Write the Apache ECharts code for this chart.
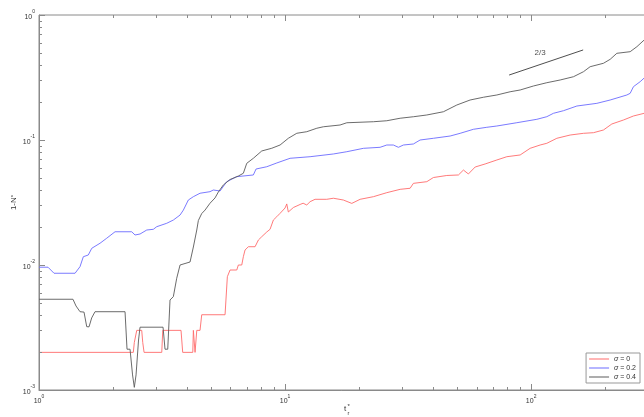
<!DOCTYPE html>
<html>
<head>
<meta charset="utf-8">
<script src="https://cdn.jsdelivr.net/npm/echarts@6/dist/echarts.min.js"></script>
<style>
  html, body { margin: 0; padding: 0; background: #fff; }
  #chart { width: 644px; height: 417px; }
</style>
</head>
<body>
<div id="chart"></div>
<script>
// Axis ranges and tick values
const X_MIN = 1, X_MAX = 307;
const Y_MIN = 0.001, Y_MAX = 1;
const xTickValues = [1, 2, 3, 4, 5, 6, 7, 8, 9, 10, 20, 30, 40, 50, 60, 70, 80, 90, 100, 200, 300];
const yTickValues = [0.001, 0.002, 0.003, 0.004, 0.005, 0.006, 0.007, 0.008, 0.009,
                     0.01, 0.02, 0.03, 0.04, 0.05, 0.06, 0.07, 0.08, 0.09,
                     0.1, 0.2, 0.3, 0.4, 0.5, 0.6, 0.7, 0.8, 0.9, 1];

// sigma = 0
const tS0 = [1, 2.417, 2.44, 2.496, 2.615, 2.64, 2.673, 3.154, 3.184, 3.777, 3.837, 4.217, 4.24, 4.307, 4.377,
  4.512, 4.585, 5.703, 5.827, 5.976, 6.364, 6.459, 6.668, 6.768, 6.876, 7.093, 7.551, 7.791, 8.039, 8.425,
  8.69, 8.963, 9.254, 9.543, 10, 10.16, 10.31, 10.81, 11.51, 11.84, 12.25, 12.64, 13.24, 14.77, 15.72,
  17.26, 18.67, 20.18, 22.86, 25.91, 29.35, 32.22, 33.23, 37.67, 40.07, 45.42, 50.65, 53.07, 55.6, 59.22,
  65.01, 72.55, 79.65, 90.23, 99.06, 108.8, 115.8, 127.2, 144.1, 163.2, 179.2, 196.7, 212.8, 237.2, 260.5, 288];
const nS0 = [0.002, 0.002, 0.0024, 0.003, 0.003, 0.0024, 0.002, 0.002, 0.003, 0.003, 0.002, 0.002, 0.003, 0.002, 0.003,
  0.003, 0.004, 0.004, 0.00806, 0.00912, 0.00912, 0.01, 0.01, 0.01165, 0.01318, 0.014, 0.014, 0.01585, 0.01684, 0.01837,
  0.0193, 0.0229, 0.02434, 0.0259, 0.02858, 0.0308, 0.02655, 0.02884, 0.0305, 0.0312, 0.0302, 0.0321, 0.03354, 0.03354, 0.0342,
  0.0331, 0.0311, 0.03354, 0.0352, 0.0379, 0.0403, 0.0411, 0.045, 0.0464, 0.0501, 0.052, 0.0525, 0.0575, 0.0535, 0.0608,
  0.0643, 0.0692, 0.0735, 0.0759, 0.0858, 0.0912, 0.0941, 0.1032, 0.1096, 0.1131, 0.1144, 0.1202, 0.1343, 0.1445, 0.1556, 0.1635];

// sigma = 0.2
const tS02 = [1, 1.088, 1.151, 1.401, 1.468, 1.514, 1.586, 1.638, 1.77, 1.884, 2.037, 2.381, 2.456, 2.574, 2.741,
  2.915, 3.009, 3.305, 3.516, 3.743, 3.861, 4.045, 4.24, 4.512, 4.955, 5.11, 5.443, 5.794, 6.364, 7.431,
  7.622, 8.425, 9.254, 10.48, 12.64, 15.72, 17.82, 20.82, 24.33, 25.91, 27.55, 28.88, 30.27, 33.23, 35.38,
  40.07, 46.86, 51.45, 58.28, 66.06, 72.55, 87.49, 105.5, 115.8, 123.2, 135.3, 153.4, 185, 209.5, 244.9,
  252.6, 260.5, 277.4, 288];
const nS02 = [0.0096, 0.0096, 0.00859, 0.00859, 0.0097, 0.01165, 0.01202, 0.0136, 0.01493, 0.01637, 0.01845, 0.01845, 0.01738, 0.0177, 0.01905,
  0.0193, 0.02025, 0.02157, 0.0229, 0.0251, 0.0275, 0.0331, 0.0352, 0.0375, 0.0386, 0.0398, 0.0391, 0.0464, 0.0509, 0.0525,
  0.0586, 0.0611, 0.0655, 0.0714, 0.0735, 0.0773, 0.0806, 0.0858, 0.0874, 0.0912, 0.0912, 0.0874, 0.0912, 0.0929, 0.1,
  0.1032, 0.1076, 0.1131, 0.1218, 0.1264, 0.1294, 0.1375, 0.1464, 0.1536, 0.1635, 0.1715, 0.187, 0.1965, 0.2089, 0.2291,
  0.2363, 0.267, 0.2927, 0.3133];

// sigma = 0.4
const tS04 = [1, 1.374, 1.414, 1.468, 1.524, 1.563, 1.597, 1.637, 1.689, 2.237, 2.279, 2.344, 2.4, 2.44, 2.48,
  2.538, 2.574, 3.192, 3.252, 3.336, 3.408, 3.515, 3.628, 3.743, 4.11, 4.24, 4.377, 4.443, 4.585, 4.729,
  4.955, 5.193, 5.357, 5.613, 5.976, 6.459, 6.768, 6.987, 7.431, 8.039, 8.831, 9.543, 10.31, 11.16, 12.25,
  13.46, 14.31, 16.73, 17.82, 22.86, 25.91, 29.35, 33.23, 37.67, 44.01, 49.89, 56.49, 63.99, 72.55, 82.16,
  90.23, 102.2, 115.8, 131.2, 148.6, 163.2, 173.7, 196.7, 209.5, 223, 252.6, 269, 288];
const nS04 = [0.00532, 0.00532, 0.0047, 0.00423, 0.0042, 0.00321, 0.0032, 0.00377, 0.00423, 0.00423, 0.00212, 0.00212, 0.00132, 0.00105, 0.00132,
  0.00251, 0.00318, 0.00318, 0.00212, 0.00212, 0.00525, 0.00558, 0.00783, 0.01, 0.01057, 0.01393, 0.01905, 0.0227, 0.0258, 0.0275,
  0.0312, 0.0344, 0.0384, 0.0437, 0.0483, 0.0515, 0.0542, 0.0651, 0.0714, 0.0817, 0.0859, 0.0912, 0.1032, 0.1132, 0.1165,
  0.1242, 0.1276, 0.1318, 0.1374, 0.14, 0.1426, 0.1493, 0.1535, 0.1585, 0.1683, 0.1905, 0.2089, 0.2198, 0.2291, 0.2432,
  0.2512, 0.2704, 0.2873, 0.302, 0.3208, 0.3518, 0.3858, 0.4108, 0.442, 0.4938, 0.5087, 0.5578, 0.631];

// Reference slope 2/3 guide
const slopeT = [81.4, 162.7];
const slopeN = [0.331, 0.331 * Math.pow(162.7 / 81.4, 2 / 3)];
const slopeLabel = '2/3';
const slopeLabelAt = [108.8, 0.5];

const seriesNames = ['σ = 0', 'σ = 0.2', 'σ = 0.4'];
const seriesColors = ['#ff6b6b', '#6b6bff', '#5a5a5a'];

const AXIS_COLOR = '#8a8a8a';
const LABEL_COLOR = '#333';
const FONT = 'Liberation Sans, Arial, Helvetica, sans-serif';

const zip = (a, b) => a.map((v, i) => [v, b[i]]);
const isDecade = v => Math.abs(Math.log10(v) - Math.round(Math.log10(v))) < 1e-9;
const expLabel = v => '{b|10}{s|' + Math.round(Math.log10(v)) + '}';

const crisp = v => Math.round(v) + 0.5;

function tickLine(x1, y1, x2, y2) {
  return { type: 'line', shape: { x1: x1, y1: y1, x2: x2, y2: y2 },
           style: { stroke: AXIS_COLOR, lineWidth: 1 } };
}

// Inward ticks on the bottom and top edges
function renderXTick(params, api) {
  const v = api.value(0);
  const len = isDecade(v) ? 6 : 3;
  const b = api.coord([v, Y_MIN]);
  const t = api.coord([v, Y_MAX]);
  const x = crisp(b[0]);
  return { type: 'group', children: [
    tickLine(x, b[1], x, b[1] - len),
    tickLine(x, t[1], x, t[1] + len)
  ] };
}

// Inward ticks on the left edge
function renderYTick(params, api) {
  const v = api.value(1);
  const len = isDecade(v) ? 6 : 3;
  const l = api.coord([X_MIN, v]);
  const y = crisp(l[1]);
  return tickLine(l[0], y, l[0] + len, y);
}

const lineSeries = [tS0, tS02, tS04].map((t, i) => ({
  name: seriesNames[i],
  type: 'line',
  data: zip(t, [nS0, nS02, nS04][i]),
  symbol: 'none',
  lineStyle: { color: seriesColors[i], width: 0.9 },
  itemStyle: { color: seriesColors[i] },
  z: 3 + i
}));

const labelRich = {
  b: { fontSize: 7, fontFamily: FONT, color: LABEL_COLOR, lineHeight: 11, verticalAlign: 'bottom' },
  s: { fontSize: 5, fontFamily: FONT, color: LABEL_COLOR, lineHeight: 6, verticalAlign: 'top' }
};

const chart = echarts.init(document.getElementById('chart'), null, { renderer: 'canvas' });

chart.setOption({
  animation: false,
  backgroundColor: '#fff',
  grid: {
    left: 39, right: -7, top: 15, bottom: 27,
    containLabel: false, outerBoundsMode: 'none',
    show: true, borderColor: AXIS_COLOR, borderWidth: 1, backgroundColor: '#fff'
  },
  xAxis: {
    type: 'log', logBase: 10, min: X_MIN, max: X_MAX,
    name: 't',
    nameLocation: 'middle', nameGap: 15, nameMoveOverlap: false,
    nameTextStyle: { fontFamily: FONT, fontSize: 8, color: LABEL_COLOR },
    axisLine: { show: true, lineStyle: { color: AXIS_COLOR, width: 1 } },
    axisTick: { show: false },
    splitLine: { show: false },
    axisLabel: {
      margin: 4,
      formatter: v => isDecade(v) ? expLabel(v) : '',
      rich: labelRich
    }
  },
  yAxis: {
    type: 'log', logBase: 10, min: Y_MIN, max: Y_MAX,
    name: '1-N{s|*}',
    nameLocation: 'middle', nameGap: 21, nameMoveOverlap: false,
    nameTextStyle: {
      fontFamily: FONT, fontSize: 8, color: LABEL_COLOR,
      rich: {
        s: { fontSize: 6, fontFamily: FONT, color: LABEL_COLOR, lineHeight: 6, verticalAlign: 'top' }
      }
    },
    axisLine: { show: true, lineStyle: { color: AXIS_COLOR, width: 1 } },
    axisTick: { show: false },
    splitLine: { show: false },
    axisLabel: {
      margin: 4,
      formatter: v => isDecade(v) ? expLabel(v) : '',
      rich: labelRich
    }
  },
  legend: {
    data: seriesNames,
    orient: 'vertical',
    right: 4, bottom: 34,
    icon: 'rect',
    itemWidth: 20, itemHeight: 1, itemGap: 1,
    padding: [2, 4, 2, 3],
    borderColor: '#999', borderWidth: 1, borderRadius: 0,
    backgroundColor: '#fff',
    formatter: name => '{i|σ}' + name.slice(1),
    textStyle: {
      fontFamily: FONT, fontSize: 7, color: LABEL_COLOR, lineHeight: 8,
      rich: { i: { fontStyle: 'italic', fontFamily: FONT, fontSize: 7, color: LABEL_COLOR, lineHeight: 8 } }
    }
  },
  // superscript and subscript of the t axis title
  graphic: [
    { type: 'text', left: 347.5, top: 403.5,
      style: { text: '*', fontFamily: FONT, fontSize: 6, fill: LABEL_COLOR } },
    { type: 'text', left: 347.5, top: 410.5,
      style: { text: 'r', fontFamily: FONT, fontSize: 5.5, fill: LABEL_COLOR } }
  ],
  series: [
    ...lineSeries,
    {
      name: 'slope',
      type: 'line',
      data: zip(slopeT, slopeN),
      symbol: 'none',
      lineStyle: { color: '#3a3a3a', width: 0.9 },
      silent: true,
      z: 2
    },
    {
      name: 'slopeLabel',
      type: 'scatter',
      data: [slopeLabelAt],
      symbolSize: 0,
      silent: true,
      label: {
        show: true, position: 'inside', formatter: slopeLabel,
        fontFamily: FONT, fontSize: 8, color: '#222'
      }
    },
    {
      name: 'xTicks',
      type: 'custom',
      renderItem: renderXTick,
      data: xTickValues.map(v => [v, Y_MIN]),
      silent: true,
      clip: false,
      z: 10
    },
    {
      name: 'yTicks',
      type: 'custom',
      renderItem: renderYTick,
      data: yTickValues.map(v => [X_MIN, v]),
      silent: true,
      clip: false,
      z: 10
    }
  ]
});
</script>
</body>
</html>
